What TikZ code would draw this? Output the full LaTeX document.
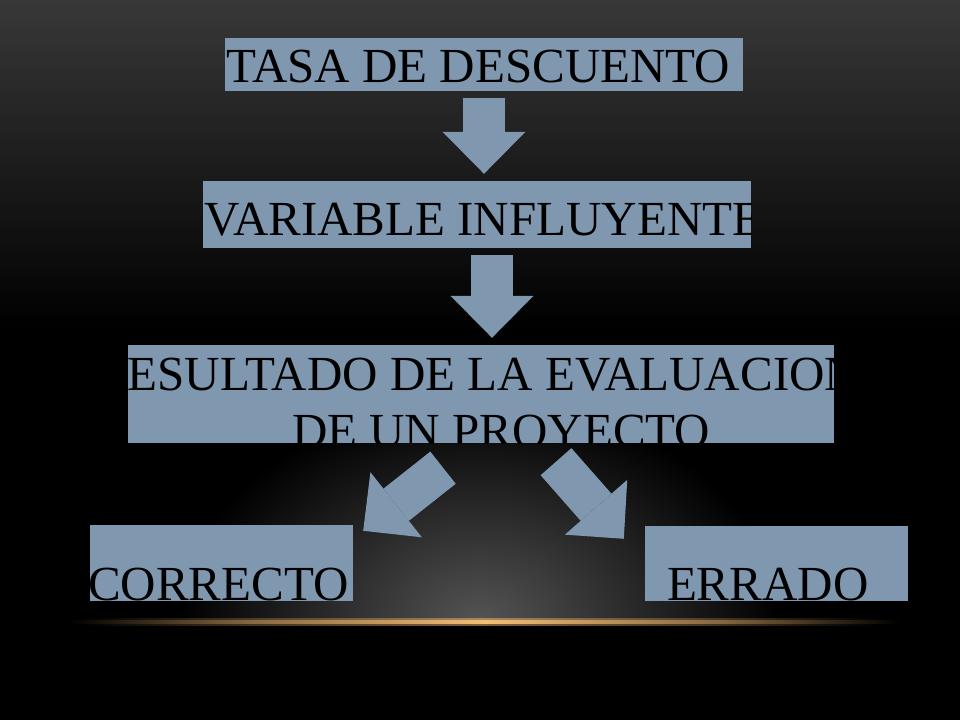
\documentclass[tikz,border=0pt]{standalone}
\usepackage{fontspec}
\setmainfont{Liberation Serif}
\usetikzlibrary{arrows.meta}
\definecolor{boxblue}{RGB}{127,151,175}
\definecolor{horizon}{RGB}{246,190,116}
\definecolor{topgray}{RGB}{56,56,56}
\definecolor{glow}{RGB}{84,84,84}
\pgfdeclarehorizontalshading{horizonline}{100bp}{color(0bp)=(black); color(25bp)=(black);
  color(36bp)=(horizon!55!black); color(50bp)=(horizon); color(64bp)=(horizon!55!black);
  color(75bp)=(black); color(100bp)=(black)}

\begin{document}
\begin{tikzpicture}[x=1pt,y=1pt,
    box/.style={fill=boxblue, inner sep=0pt},
    boxtext/.style={anchor=base west, inner sep=0pt, text=black, font=\fontsize{49}{57}\selectfont},
    blockarrow/.style={line width=#1, boxblue,
      -{Triangle[length=42pt 0 0, width=83pt 0 0, line width=0pt 0 0]}},
    blockarrow/.default=42pt]
  \useasboundingbox (0,0) rectangle (960,720);
  \fill[black] (0,0) rectangle (960,720);
  \shade[top color=topgray, bottom color=black] (0,390) rectangle (960,720);
  \begin{scope}
    \clip (0,98) rectangle (960,720);
    \shade[inner color=glow, outer color=black] (480,98) ellipse (300 and 220);
  \end{scope}
  \shade[shading=horizonline, opacity=0.5] (80,94.5) rectangle (880,101.5);
  \shade[shading=horizonline] (70,96.5) rectangle (900,99.5);

  \node[box, minimum width=518pt, minimum height=53pt] (tasa) at (484,655.5) {};
  \node[box, minimum width=548pt, minimum height=67pt] (variable) at (477,505.5) {};
  \node[box, minimum width=706pt, minimum height=98pt] (resultado) at (481,326) {};
  \node[box, minimum width=263pt, minimum height=76pt] (correcto) at (221.5,157) {};
  \node[box, minimum width=263pt, minimum height=75pt] (errado) at (776.5,156.5) {};

  \begin{scope}
    \clip (tasa.south west) rectangle (tasa.north east);
    \node[boxtext] (tasatext) at ([shift={(1pt,9pt)}]tasa.south west) {TASA DE DESCUENTO};
  \end{scope}
  \begin{scope}
    \clip (variable.south west) rectangle (variable.north east);
    \node[boxtext] (variabletext) at ([shift={(1pt,13pt)}]variable.south west) {VARIABLE INFLUYENTE};
  \end{scope}
  \begin{scope}
    \clip (resultado.south west) rectangle (resultado.north east);
    \node[boxtext] (resultadotext) at ([shift={(-33pt,53pt)}]resultado.south west) {RESULTADO DE LA EVALUACION};
    \node[boxtext] (proyectotext) at ([shift={(164pt,-4pt)}]resultado.south west) {DE UN PROYECTO};
  \end{scope}
  \begin{scope}
    \clip (correcto.south west) rectangle (correcto.north east);
    \node[boxtext] (correctotext) at ([shift={(-2pt,1pt)}]correcto.south west) {CORRECTO};
  \end{scope}
  \begin{scope}
    \clip (errado.south west) rectangle (errado.north east);
    \node[boxtext] (erradotext) at ([shift={(22pt,1pt)}]errado.south west) {ERRADO};
  \end{scope}

  \draw[blockarrow] ([yshift=-7pt]tasa.south) -- ([xshift=7pt,yshift=7pt]variable.north);
  \draw[blockarrow] ([xshift=15pt,yshift=-7pt]variable.south) -- ([xshift=11pt,yshift=7pt]resultado.north);
  \draw[blockarrow=41pt] ([xshift=-38pt,yshift=-24.5pt]resultado.south) -- ([xshift=10pt,yshift=-6pt]correcto.north east);
  \draw[blockarrow=41pt] ([xshift=75pt,yshift=-18.5pt]resultado.south) -- ([xshift=-21pt,yshift=-13pt]errado.north west);
\end{tikzpicture}
\end{document}
